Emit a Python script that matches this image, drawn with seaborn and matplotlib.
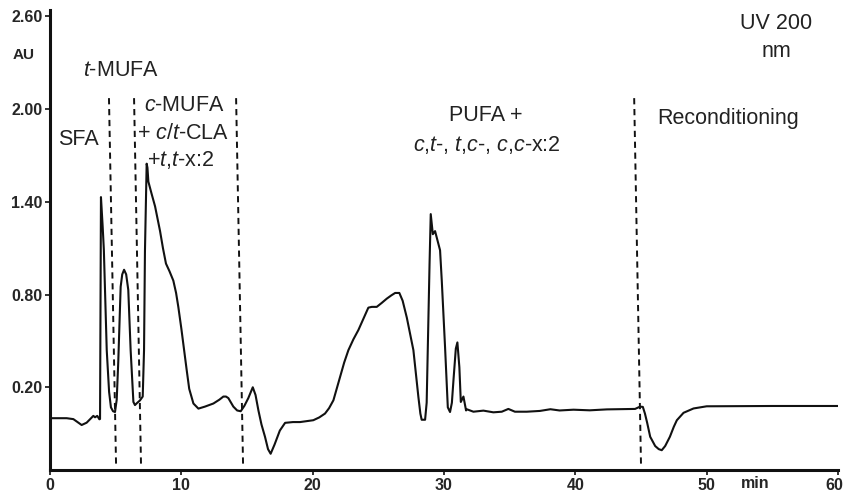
import numpy as np
import pandas as pd
import matplotlib
matplotlib.use("Agg")
import matplotlib.pyplot as plt
import matplotlib.transforms as mtransforms
import seaborn as sns

# ---- data ----
time_min = [0.0, 0.8, 1.27, 1.78, 2.1, 2.41, 2.79, 3.05, 3.3, 3.43, 3.6, 3.76, 3.81,
            3.88, 4.01, 4.1, 4.32, 4.5, 4.64, 4.8, 4.95, 5.08, 5.2, 5.38, 5.5, 5.64,
            5.8, 5.96, 6.14, 6.35, 6.47, 6.65, 6.85, 7.06, 7.16, 7.23, 7.36, 7.42,
            7.49, 7.74, 8.0, 8.38, 8.6, 8.83, 9.1, 9.39, 9.6, 9.77, 10.0, 10.15,
            10.41, 10.6, 10.92, 11.3, 11.8, 12.44, 12.9, 13.2, 13.4, 13.58, 13.96,
            14.25, 14.52, 14.8, 15.1, 15.44, 15.65, 15.87, 16.1, 16.37, 16.6, 16.8,
            17.1, 17.5, 17.9, 18.5, 19.04, 20.05, 20.5, 20.94, 21.25, 21.58, 22.09,
            22.4, 22.72, 23.1, 23.48, 23.9, 24.24, 24.5, 24.88, 25.25, 25.64, 26.0,
            26.28, 26.6, 26.85, 27.17, 27.67, 28.05, 28.2, 28.3, 28.56, 28.68, 28.76,
            28.9, 28.99, 29.15, 29.32, 29.7, 29.83, 30.08, 30.29, 30.46, 30.6, 30.72,
            30.9, 31.02, 31.17, 31.28, 31.48, 31.68, 31.73, 32.24, 33.0, 33.76, 34.4,
            34.9, 35.4, 36.3, 37.3, 38.1, 38.8, 39.86, 41.1, 42.4, 44.55, 44.93,
            45.14, 45.3, 45.47, 45.7, 46.08, 46.35, 46.58, 46.84, 47.2, 47.5, 47.73,
            48.24, 49.0, 50.0, 55.0, 60.0]
absorbance = [0.0, 0.0, 0.0, -0.006, -0.025, -0.044, -0.029, -0.007, 0.015, 0.006, 0.015,
              -0.007, -0.005,
              1.43, 1.24, 1.09, 0.44, 0.17, 0.07, 0.045, 0.04, 0.12, 0.37, 0.85, 0.93,
              0.96, 0.93, 0.83, 0.44, 0.105, 0.085, 0.10, 0.115, 0.14, 0.44, 1.08,
              1.646, 1.62, 1.53, 1.45, 1.37, 1.21, 1.10, 1.0, 0.95, 0.89, 0.81, 0.72,
              0.58, 0.48, 0.31, 0.19, 0.095, 0.062, 0.075, 0.095, 0.12, 0.14, 0.14,
              0.13, 0.075, 0.05, 0.045, 0.08, 0.13, 0.20, 0.15, 0.05, -0.04, -0.12,
              -0.2, -0.23, -0.17, -0.08, -0.03, -0.025, -0.025, -0.013, 0.005, 0.03,
              0.065, 0.116, 0.267, 0.36, 0.44, 0.51, 0.57, 0.65, 0.715, 0.72, 0.72,
              0.745, 0.773, 0.795, 0.81, 0.81, 0.76, 0.65, 0.44, 0.137, 0.03, -0.01,
              -0.01, 0.10, 0.44, 1.0, 1.32, 1.19, 1.21, 1.086, 0.89, 0.46, 0.07, 0.04,
              0.10, 0.245, 0.45, 0.49, 0.33, 0.105, 0.14, 0.05, 0.058, 0.042, 0.049,
              0.038, 0.042, 0.06, 0.042, 0.042, 0.047, 0.058, 0.05, 0.055, 0.051,
              0.057, 0.06, 0.075, 0.073, 0.03, -0.03, -0.12, -0.18, -0.2, -0.207,
              -0.18, -0.12, -0.055, -0.013, 0.035, 0.063, 0.077, 0.079, 0.079]

# fraction boundaries (top and bottom ends of the slanted dashed lines, in min)
divider_top = [4.49, 6.40, 14.17, 44.48]
divider_bottom = [5.03, 6.93, 14.70, 45.0]
divider_span = [2.07, -0.30]

x_ticks = [0, 10, 20, 30, 40, 50, 60]
x_tick_labels = ["0", "10", "20", "30", "40", "50", "60"]
y_ticks = [0.20, 0.80, 1.40, 2.00, 2.60]
y_tick_labels = ["0.20", "0.80", "1.40", "2.00", "2.60"]

# ---- style ----
sns.set_style("ticks")
plt.rcParams["font.family"] = ["Liberation Sans", "DejaVu Sans"]
plt.rcParams["mathtext.fontset"] = "custom"
plt.rcParams["mathtext.rm"] = "Liberation Sans"
plt.rcParams["mathtext.it"] = "Liberation Sans:italic"

fig = plt.figure(figsize=(8.45, 4.96), dpi=100)
ax = fig.add_axes([50 / 845, 26 / 496, (838 - 50) / 845, (486 - 26) / 496])

df = pd.DataFrame({"t": time_min, "au": absorbance})
sns.lineplot(data=df, x="t", y="au", ax=ax, color="#111111", lw=1.5,
             estimator=None, sort=False)

for xt, xb in zip(divider_top, divider_bottom):
    ax.plot([xt, xb], divider_span, color="#111111", lw=1.4,
            linestyle=(0, (3.2, 2.4)))

ax.set_xlim(0, 60)
ax.set_ylim(-0.335, 2.64)
ax.set_xticks(x_ticks)
ax.set_xticklabels(x_tick_labels, fontsize=11.5, fontweight="bold")
ax.set_yticks(y_ticks)
ax.set_yticklabels(y_tick_labels, fontsize=11.5, fontweight="bold")
ax.tick_params(axis="both", length=3.5, width=1.2, color="#111111", pad=2)
ax.set_xlabel("")
ax.set_ylabel("")
for s in ["top", "right"]:
    ax.spines[s].set_visible(False)
for s in ["left", "bottom"]:
    ax.spines[s].set_linewidth(2.2)
    ax.spines[s].set_color("#111111")

# keep the last x tick label inside the canvas
last = ax.get_xticklabels()[-1]
last.set_transform(last.get_transform() +
                   mtransforms.ScaledTranslation(-4 / 100, 0, fig.dpi_scale_trans))

fs = 15.5
tc = "#222222"
ax.text(2.13, 1.80, "SFA", fontsize=fs, color=tc, ha="center", va="center")
ax.text(5.41, 2.25, r"$\mathit{t}$-MUFA", fontsize=fs, color=tc, ha="center", va="center")
ax.text(10.2, 2.02, r"$\mathit{c}$-MUFA", fontsize=fs, color=tc, ha="center", va="center")
ax.text(10.17, 1.84, r"+ $\mathit{c/t}$-CLA", fontsize=fs, color=tc, ha="center", va="center")
ax.text(9.98, 1.67, r"+$\mathit{t}$,$\mathit{t}$-x:2", fontsize=fs, color=tc, ha="center", va="center")
ax.text(33.2, 1.96, "PUFA +", fontsize=fs, color=tc, ha="center", va="center")
ax.text(33.3, 1.77, r"$\mathit{c}$,$\mathit{t}$-, $\mathit{t}$,$\mathit{c}$-, $\mathit{c}$,$\mathit{c}$-x:2",
        fontsize=fs, color=tc, ha="center", va="center")
ax.text(46.23, 1.94, "Reconditioning", fontsize=fs, color=tc, ha="left", va="center")
ax.text(55.3, 2.55, "UV 200", fontsize=fs, color=tc, ha="center", va="center")
ax.text(55.3, 2.37, "nm", fontsize=fs, color=tc, ha="center", va="center")

fig.text(24 / 845, 1 - 55 / 496, "AU", fontsize=11, fontweight="bold", ha="center", va="center")
fig.text(755 / 845, 1 - 484 / 496, "min", fontsize=11.5, fontweight="bold", ha="center", va="center")

fig.savefig("out.png", dpi=100)
